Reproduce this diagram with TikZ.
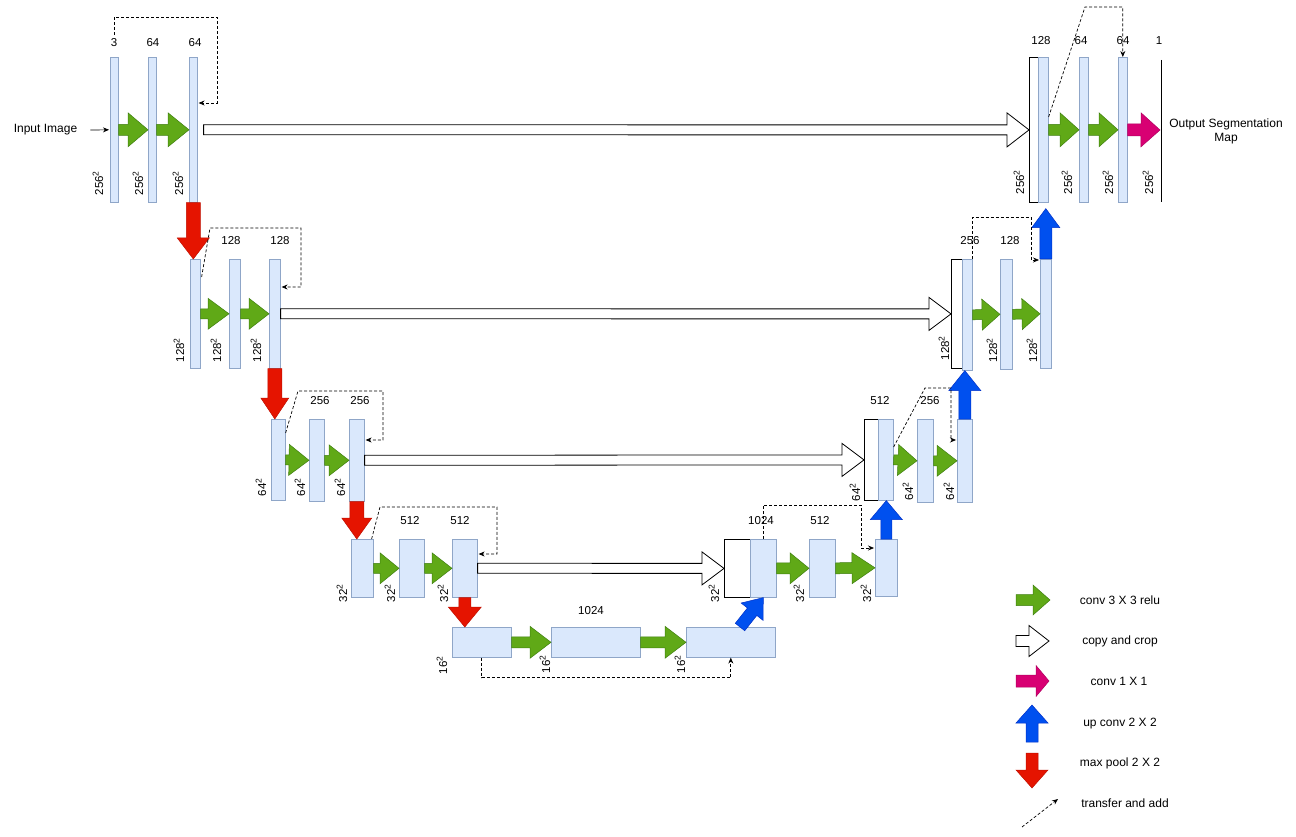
\documentclass[tikz,border=0pt]{standalone}
\usepackage{fontspec}
\setmainfont{Liberation Sans}
\usetikzlibrary{calc,arrows.meta}
\definecolor{barF}{HTML}{DAE8FC}
\definecolor{barD}{HTML}{8FA6C8}
\definecolor{grF}{HTML}{60A917}
\definecolor{grD}{HTML}{3F7F10}
\definecolor{rdF}{HTML}{E51400}
\definecolor{rdD}{HTML}{C01000}
\definecolor{blF}{HTML}{0050EF}
\definecolor{blD}{HTML}{0030C8}
\definecolor{pkF}{HTML}{D80073}
\definecolor{pkD}{HTML}{B00060}
\newcommand{\sqd}{\textsuperscript{\fontsize{8.5}{9}\selectfont 2}}
% #1 style, #2 start, #3 tip, #4 head length, #5 shaft half width, #6 head half width
\newcommand{\fatarr}[6]{%
  \coordinate (fas) at (#2);
  \coordinate (fat) at (#3);
  \coordinate (fah) at ($(fat)!#4pt!(fas)$);
  \path[#1] ($(fas)!#5pt!90:(fat)$) -- ($(fah)!#5pt!-90:(fas)$) -- ($(fah)!#6pt!-90:(fas)$)
    -- (fat) -- ($(fah)!#6pt!90:(fas)$) -- ($(fah)!#5pt!90:(fas)$) -- ($(fas)!#5pt!-90:(fat)$) -- cycle;
}
\begin{document}
\begin{tikzpicture}[x=1pt,y=-1pt,
  bar/.style={draw=barD, fill=barF, line width=0.6pt, inner sep=0pt, anchor=north west},
  wbox/.style={draw=black, fill=white, line width=0.8pt, inner sep=0pt, anchor=north west},
  lab/.style={font=\fontsize{11.5}{13}\selectfont, inner sep=0pt},
  rlab/.style={lab, rotate=90},
  leg/.style={font=\fontsize{12}{14}\selectfont, inner sep=0pt},
  greenA/.style={fill=grF, draw=grD, line width=0.5pt},
  redA/.style={fill=rdF, draw=rdD, line width=0.5pt},
  blueA/.style={fill=blF, draw=blD, line width=0.5pt},
  pinkA/.style={fill=pkF, draw=pkD, line width=0.5pt},
  copyA/.style={fill=white, draw=black, line width=0.8pt},
  xfer/.style={draw=black, line width=0.7pt, dash pattern=on 3pt off 2pt, -{Stealth[length=6pt,width=5pt]}},
]
\useasboundingbox (0,0) rectangle (1296,837);

% ---------- encoder ----------
\node[bar, minimum width=8pt, minimum height=145pt] (l1a) at (110,57) {};
\node[bar, minimum width=8pt, minimum height=145pt] (l1b) at (148,57) {};
\node[bar, minimum width=8pt, minimum height=145pt] (l1c) at (189,57) {};

\node[bar, minimum width=10pt, minimum height=109pt] (l2a) at (190,259) {};
\node[bar, minimum width=11pt, minimum height=109pt] (l2b) at (229,259) {};
\node[bar, minimum width=11pt, minimum height=109pt] (l2c) at (269,259) {};

\node[bar, minimum width=14pt, minimum height=81pt] (l3a) at (271,419) {};
\node[bar, minimum width=15pt, minimum height=82pt] (l3b) at (309,419) {};
\node[bar, minimum width=15pt, minimum height=82pt] (l3c) at (349,419) {};

\node[bar, minimum width=22pt, minimum height=58pt] (l4a) at (351,539) {};
\node[bar, minimum width=25pt, minimum height=58pt] (l4b) at (399,539) {};
\node[bar, minimum width=25pt, minimum height=58pt] (l4c) at (452,539) {};

\node[bar, minimum width=59pt, minimum height=30pt] (b1) at (452,627) {};
\node[bar, minimum width=89pt, minimum height=30pt] (b2) at (551,627) {};
\node[bar, minimum width=89pt, minimum height=30pt] (b3) at (686,627) {};

% ---------- decoder ----------
\node[wbox, minimum width=26pt, minimum height=58pt] (r4w) at (724,539) {};
\node[bar, minimum width=26pt, minimum height=58pt] (r4a) at (750,539) {};
\node[bar, minimum width=26pt, minimum height=58pt] (r4b) at (809,539) {};
\node[bar, minimum width=22pt, minimum height=57pt] (r4c) at (875,539) {};

\node[wbox, minimum width=14pt, minimum height=81pt] (r3w) at (864,419) {};
\node[bar, minimum width=15pt, minimum height=81pt] (r3a) at (878,419) {};
\node[bar, minimum width=16pt, minimum height=83pt] (r3b) at (917,419) {};
\node[bar, minimum width=15pt, minimum height=83pt] (r3c) at (957,419) {};

\node[wbox, minimum width=11pt, minimum height=109pt] (r2w) at (951,259) {};
\node[bar, minimum width=10pt, minimum height=111pt] (r2a) at (962,259) {};
\node[bar, minimum width=12pt, minimum height=110pt] (r2b) at (1000,259) {};
\node[bar, minimum width=11pt, minimum height=109pt] (r2c) at (1040,259) {};

\node[wbox, minimum width=9pt, minimum height=145pt] (r1w) at (1029,57) {};
\node[bar, minimum width=10pt, minimum height=145pt] (r1a) at (1038,57) {};
\node[bar, minimum width=9pt, minimum height=145pt] (r1b) at (1079,57) {};
\node[bar, minimum width=9pt, minimum height=145pt] (r1c) at (1118,57) {};

\coordinate (o1) at (1161,60);
\coordinate (o2) at (1161,202);
\coordinate (otip) at (1160,130);
\draw[line width=0.8pt] (o1) -- (o2);

% ---------- conv arrows ----------
\fatarr{greenA}{l1a.east}{l1b.west}{20}{5.5}{17}
\fatarr{greenA}{l1b.east}{l1c.west}{21}{5.5}{17}
\fatarr{greenA}{l2a.east}{l2b.west}{21}{5}{15.5}
\fatarr{greenA}{l2b.east}{l2c.west}{20}{5}{15.5}
\fatarr{greenA}{l3a.east}{l3b.west}{20}{5}{15.5}
\fatarr{greenA}{l3b.east}{l3c.west}{20}{5}{15.5}
\fatarr{greenA}{l4a.east}{l4b.west}{19}{5}{15.5}
\fatarr{greenA}{l4b.east}{l4c.west}{20}{5}{15.5}
\fatarr{greenA}{b1.east}{b2.west}{21}{5.5}{16}
\fatarr{greenA}{b2.east}{b3.west}{21}{5.5}{16}
\fatarr{greenA}{r4a.east}{r4b.west}{19}{5.5}{15.5}
\fatarr{greenA}{r4b.east}{r4c.west}{23}{5.5}{15.5}
\fatarr{greenA}{r3a.east}{r3b.west}{19}{5}{15.5}
\fatarr{greenA}{r3b.east}{r3c.west}{20}{5}{15.5}
\fatarr{greenA}{r2a.east}{r2b.west}{18}{5}{15.5}
\fatarr{greenA}{r2b.east}{r2c.west}{18}{5}{15.5}
\fatarr{greenA}{r1a.east}{r1b.west}{19}{5.5}{17}
\fatarr{greenA}{r1b.east}{r1c.west}{19}{5.5}{17}
\fatarr{pinkA}{r1c.east}{otip}{19}{6}{17}

% ---------- copy and crop ----------
\fatarr{copyA}{$(l1c.east)+(6,0)$}{r1w.west}{22}{5}{17}
\fatarr{copyA}{l2c.east}{r2w.west}{22}{5}{16.5}
\fatarr{copyA}{l3c.east}{r3w.west}{22}{5}{16.5}
\fatarr{copyA}{l4c.east}{r4w.west}{22}{5}{16.5}

% ---------- max pool ----------
\fatarr{redA}{l1c.south}{l1c.south |- l2a.north}{21}{7}{16}
\fatarr{redA}{l2c.south}{l2c.south |- l3a.north}{21}{7}{14}
\fatarr{redA}{l3c.south}{l3c.south |- l4a.north}{21}{7}{15}
\fatarr{redA}{l4c.south}{l4c.south |- b1.north}{20}{6}{16.5}

% ---------- up conv ----------
\fatarr{blueA}{$(b3.north west)+(54,0)$}{r4a.south}{18}{6}{14}
\fatarr{blueA}{r4c.north}{r4c.north |- r3a.south}{19}{5.5}{16}
\fatarr{blueA}{r3c.north}{r3c.north |- r2a.south}{20}{6}{16}
\fatarr{blueA}{r2c.north}{$(r2c.north |- r1a.south)+(0,6)$}{19}{6}{14}

% ---------- transfer and add ----------
\draw[xfer] ($(l1a.north)+(0,-22)$) |- (217,17) |- ($(l1c.north east)+(1,46)$);
\draw[xfer] ($(l2a.north east)+(1,18)$) -- (210,228) -- (301,228) |- ($(l2c.north east)+(1,28)$);
\draw[xfer] ($(l3a.north east)+(0,14)$) -- (298,391) -- (383,391) |- ($(l3c.north east)+(1,21)$);
\draw[xfer] ($(l4a.north east)+(-2,0)$) -- (380,507) -- (497,507) |- ($(l4c.north east)+(1,15)$);
\draw[xfer] (b1.south) -- ++(0,20) -| (b3.south);
\draw[xfer] (r4a.north) |- (861,505) |- ($(r4c.north west)+(-1,9)$);
\draw[xfer] ($(r3a.north east)+(0,28)$) -- (925,388) -- (951,388) |- ($(r3c.north west)+(-1,21)$);
\draw[xfer] (r2a.north east) |- (1031,217) |- ($(r2c.north west)+(-1,1)$);
\draw[xfer] ($(r1a.north east)+(0,60)$) -- (1085,7) -| (r1c.north);

% ---------- input / output ----------
\node[leg] (inp) at (45.5,130) {Input Image};
\draw[line width=0.7pt, -{Stealth[length=6pt,width=5pt]}] ($(inp.east)+(13,0)$) -- ($(l1a.west)+(-1,0)$);
\node[leg, align=center] (outp) at (1226,131) {Output Segmentation\\Map};

% ---------- channel labels ----------
\node[lab] (t1a) at (114,43) {3};
\node[lab] (t1b) at (153,43) {64};
\node[lab] (t1c) at (195,43) {64};
\node[lab] (t2b) at (231,241) {128};
\node[lab] (t2c) at (280,241) {128};
\node[lab] (t3b) at (320,401) {256};
\node[lab] (t3c) at (360,401) {256};
\node[lab] (t4b) at (410,521) {512};
\node[lab] (t4c) at (460,521) {512};
\node[lab] (t5b) at (591,611) {1024};
\node[lab] (u4a) at (761,521) {1024};
\node[lab] (u4b) at (820,521) {512};
\node[lab] (u3a) at (880,401) {512};
\node[lab] (u3b) at (930,401) {256};
\node[lab] (u2a) at (970,241) {256};
\node[lab] (u2b) at (1010,241) {128};
\node[lab] (u1a) at (1041,41) {128};
\node[lab] (u1b) at (1081,41) {64};
\node[lab] (u1c) at (1123,41) {64};
\node[lab] (u1d) at (1159,41) {1};

% ---------- size labels ----------
\node[rlab] (s1a) at (98,183) {256\sqd};
\node[rlab] (s1b) at (138,183) {256\sqd};
\node[rlab] (s1c) at (178,183) {256\sqd};
\node[rlab] (s2a) at (179,350) {128\sqd};
\node[rlab] (s2b) at (216,350) {128\sqd};
\node[rlab] (s2c) at (256,350) {128\sqd};
\node[rlab] (s3a) at (261,487) {64\sqd};
\node[rlab] (s3b) at (300,487) {64\sqd};
\node[rlab] (s3c) at (340,487) {64\sqd};
\node[rlab] (s4a) at (342,593) {32\sqd};
\node[rlab] (s4b) at (390,593) {32\sqd};
\node[rlab] (s4c) at (443,593) {32\sqd};
\node[rlab] (s5a) at (442,665) {16\sqd};
\node[rlab] (s5b) at (545,664) {16\sqd};
\node[rlab] (s5c) at (680,664) {16\sqd};
\node[rlab] (v4a) at (714,593) {32\sqd};
\node[rlab] (v4b) at (799,593) {32\sqd};
\node[rlab] (v4c) at (866,593) {32\sqd};
\node[rlab] (v3a) at (855,492) {64\sqd};
\node[rlab] (v3b) at (908,491) {64\sqd};
\node[rlab] (v3c) at (949,491) {64\sqd};
\node[rlab] (v2a) at (944,348) {128\sqd};
\node[rlab] (v2b) at (992,350) {128\sqd};
\node[rlab] (v2c) at (1032,350) {128\sqd};
\node[rlab] (v1a) at (1019,182) {256\sqd};
\node[rlab] (v1b) at (1067,182) {256\sqd};
\node[rlab] (v1c) at (1108,182) {256\sqd};
\node[rlab] (v1d) at (1148,182) {256\sqd};

% ---------- legend ----------
\coordinate (g1s) at (1016,600); \coordinate (g1t) at (1050,600);
\coordinate (g2s) at (1016,641); \coordinate (g2t) at (1049,641);
\coordinate (g3s) at (1016,681); \coordinate (g3t) at (1049,681);
\coordinate (g4s) at (1032,742); \coordinate (g4t) at (1032,705);
\coordinate (g5s) at (1032,753); \coordinate (g5t) at (1032,788);
\coordinate (g6s) at (1022,827); \coordinate (g6t) at (1058,799);
\fatarr{greenA}{g1s}{g1t}{17}{5.5}{15}
\fatarr{copyA}{g2s}{g2t}{20}{5.5}{15.5}
\fatarr{pinkA}{g3s}{g3t}{13}{6}{15.5}
\fatarr{blueA}{g4s}{g4t}{18}{6}{16}
\fatarr{redA}{g5s}{g5t}{18}{6}{16}
\draw[xfer] (g6s) -- (g6t);
\node[leg] (k1) at (1120,600) {conv 3 X 3 relu};
\node[leg] (k2) at (1120,641) {copy and crop};
\node[leg] (k3) at (1119,681) {conv 1 X 1};
\node[leg] (k4) at (1120,724) {up conv 2 X 2};
\node[leg] (k5) at (1120,763) {max pool 2 X 2};
\node[leg] (k6) at (1125,803) {transfer and add};
\end{tikzpicture}
\end{document}
